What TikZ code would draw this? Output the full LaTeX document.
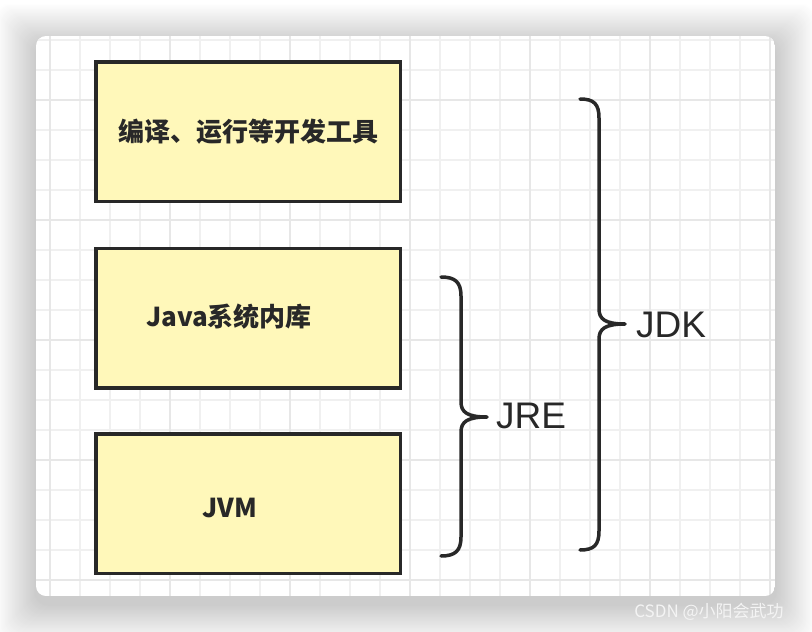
\documentclass[tikz,border=0pt]{standalone}
\usepackage{fontspec}
\setmainfont{Liberation Sans}
\newfontfamily\cjk{Noto Sans CJK SC}
\usetikzlibrary{positioning}

\definecolor{boxfill}{RGB}{255,248,186}
\definecolor{inkline}{RGB}{40,40,40}
\definecolor{gridminor}{RGB}{240,240,240}
\definecolor{gridmajor}{RGB}{231,231,231}
\definecolor{signcolor}{RGB}{244,244,244}

\tikzset{
  part/.style={draw=inkline, fill=boxfill, line width=3.5pt,
    minimum width=304.5, minimum height=139.5, inner sep=0pt,
    text=inkline, font=\cjk\bfseries\fontsize{26}{30}\selectfont},
  parttext/.style={inner sep=0pt, text=inkline,
    font=\cjk\bfseries\fontsize{26}{30}\selectfont},
  curly/.style={draw=inkline, line width=3.5pt, line cap=round, line join=round},
  tag/.style={inner sep=0pt, text=inkline, font=\fontsize{37}{42}\selectfont},
  sigtext/.style={inner sep=0pt, text=signcolor, font=\cjk\fontsize{17}{20}\selectfont}
}

\begin{document}
\begin{tikzpicture}[x=1pt,y=-1pt]
  \useasboundingbox (0,0) rectangle (812,632);
  \fill[white] (0,0) rectangle (812,632);

  % card and its shadow
  \foreach \i in {40,39,...,1} {
    \pgfmathsetmacro\shade{0.5*(41-\i)}
    \fill[black!\shade, rounded corners=14pt]
      (36-\i,44-\i) rectangle (775+\i,604+\i);
  }
  \begin{scope}
    \clip[rounded corners=10pt] (36,36) rectangle (775,596);
    \fill[white] (36,36) rectangle (775,596);
    \foreach \x in {50,80,...,770}
      \draw[gridminor, line width=2pt] (\x,36) -- (\x,596);
    \foreach \y in {40,70,...,580}
      \draw[gridminor, line width=2pt] (36,\y) -- (775,\y);
    \foreach \x in {50,170,...,770}
      \draw[gridmajor, line width=2pt] (\x,36) -- (\x,596);
    \foreach \y in {100,220,...,580}
      \draw[gridmajor, line width=2pt] (36,\y) -- (775,\y);
  \end{scope}

  % the three parts
  \node[part] (tools) at (248,131.5) {编译、运行等开发工具};
  \node[part] (lib) at (248,318) {};
  \node[part] (jvm) at (248,503.5) {};
  \node[parttext] (libtxt) at ([xshift=-19pt,yshift=1.5pt]lib.center) {Java系统内库};
  \node[parttext] (jvmtxt) at ([xshift=-18.5pt,yshift=-4.5pt]jvm.center) {JVM};

  % braces
  \draw[curly] (441,277) .. controls (455,277) and (461,282) .. (461,296)
    -- (461,402) .. controls (461,412) and (467,417) .. (487,417)
    .. controls (467,417) and (461,422) .. (461,432)
    -- (461,537) .. controls (461,551) and (455,556) .. (441,556);
  \draw[curly] (580,99) .. controls (594,99) and (599,104) .. (599,118)
    -- (599,309) .. controls (599,319) and (605,324) .. (625,324)
    .. controls (605,324) and (599,329) .. (599,339)
    -- (599,531) .. controls (599,545) and (594,550) .. (580,550);

  \node[tag] (jre) at (531,416) {JRE};
  \node[tag] (jdk) at (671,325) {JDK};

  \node[sigtext] (sign) at (709,612) {CSDN @小阳会武功};
\end{tikzpicture}
\end{document}
